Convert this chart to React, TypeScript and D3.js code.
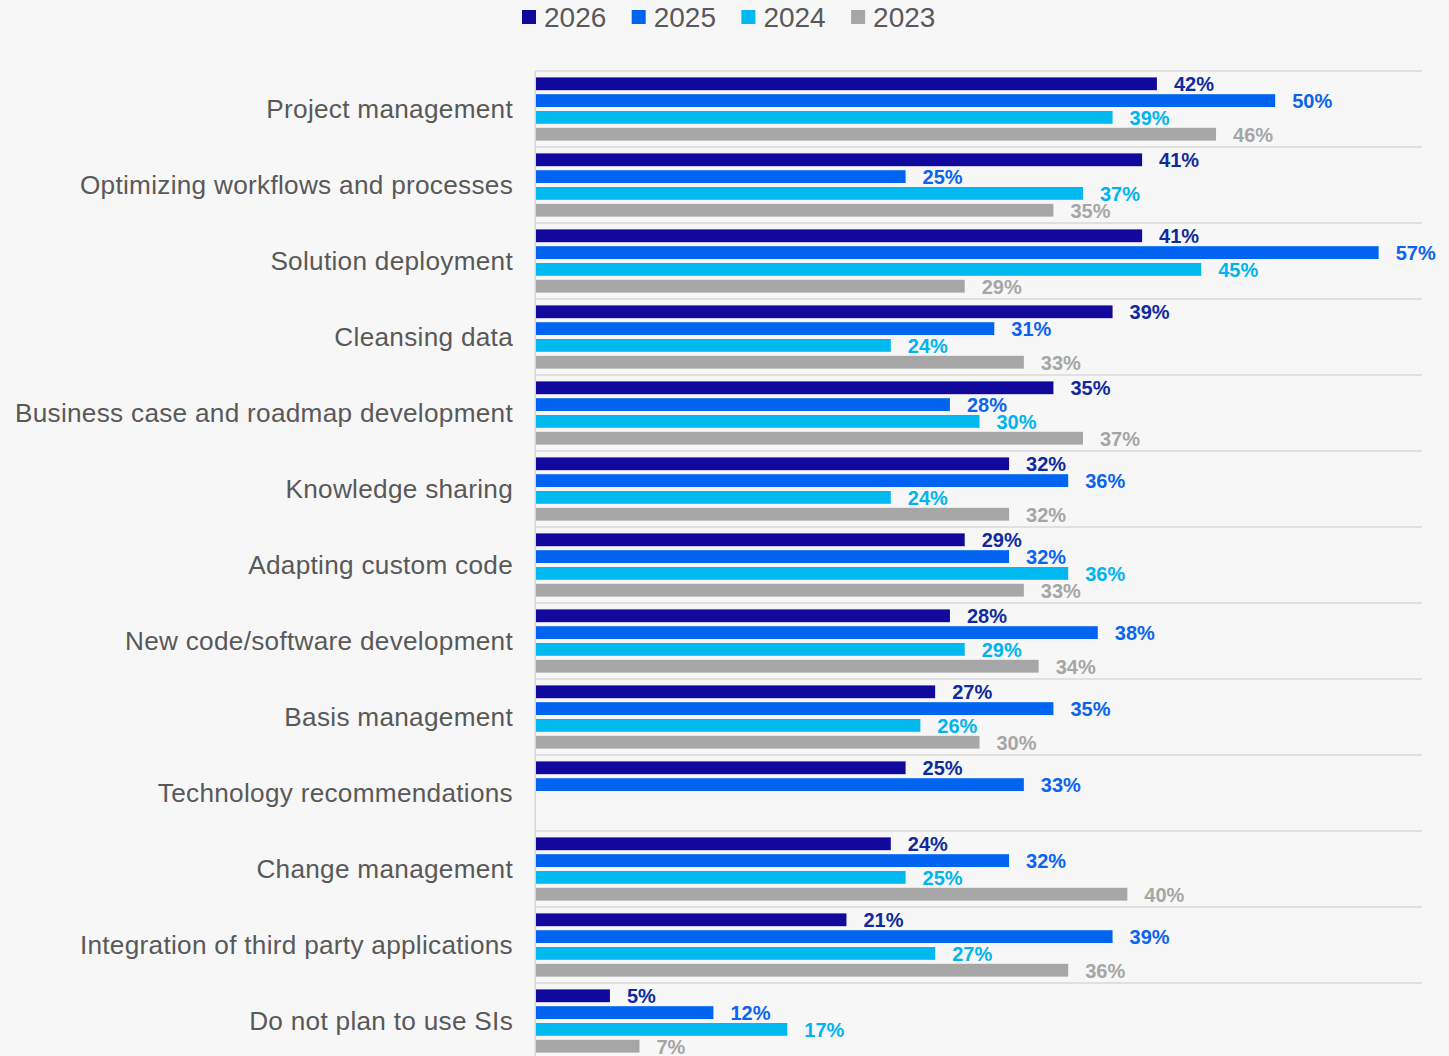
import React from "react";
import * as d3 from "d3";

const categories = [
  "Project management",
  "Optimizing workflows and processes",
  "Solution deployment",
  "Cleansing data",
  "Business case and roadmap development",
  "Knowledge sharing",
  "Adapting custom code",
  "New code/software development",
  "Basis management",
  "Technology recommendations",
  "Change management",
  "Integration of third party applications",
  "Do not plan to use SIs",
];

const seriesNames = ["2026", "2025", "2024", "2023"];
const v2026 = [42, 41, 41, 39, 35, 32, 29, 28, 27, 25, 24, 21, 5];
const v2025 = [50, 25, 57, 31, 28, 36, 32, 38, 35, 33, 32, 39, 12];
const v2024: (number | null)[] = [39, 37, 45, 24, 30, 24, 36, 29, 26, null, 25, 27, 17];
const v2023: (number | null)[] = [46, 35, 29, 33, 37, 32, 33, 34, 30, null, 40, 36, 7];
const seriesValues = [v2026, v2025, v2024, v2023];

const barColors = ["#11099c", "#0064f0", "#00b9f0", "#a6a6a6"];
const labelColors = ["#0f2a9c", "#0a64f0", "#00b4ee", "#a6a6a6"];

const W = 1449;
const H = 1056;
const FONT = "'Liberation Sans', Arial, Helvetica, sans-serif";

export default function App() {
  const x = d3.scaleLinear().domain([0, 60]).range([536, 1423]);
  const y = d3
    .scaleBand<string>()
    .domain(categories)
    .range([71, 71 + 76 * categories.length])
    .padding(0);
  const inner = d3
    .scaleBand<string>()
    .domain(seriesNames)
    .range([0, y.bandwidth()])
    .paddingInner(0.238)
    .paddingOuter(0.38);

  const gridYs = categories.map((c) => y(c) as number);
  gridYs.push(71 + 76 * categories.length);

  return (
    <svg
      width={W}
      height={H}
      style={{ position: "absolute", left: 0, top: 0, background: "#f7f7f7" }}
      fontFamily={FONT}
    >
      <rect x={0} y={0} width={W} height={H} fill="#f7f7f7" />
      {/* legend */}
      {seriesNames.map((s, i) => {
        const lx = 522 + i * 109.7;
        return (
          <g key={s}>
            <rect x={lx} y={10} width={14} height={14} fill={barColors[i]} />
            <text x={lx + 22} y={27} fontSize={28} fill="#595959">
              {s}
            </text>
          </g>
        );
      })}
      {/* gridlines */}
      {gridYs.map((gy, i) => (
        <line key={i} x1={535} x2={1422} y1={gy} y2={gy} stroke="#d9d9d9" strokeWidth={1.6} />
      ))}
      <line x1={535.2} x2={535.2} y1={71} y2={H} stroke="#d9d9d9" strokeWidth={1.6} />
      {/* category labels */}
      {categories.map((c) => (
        <text
          key={c}
          x={513}
          y={(y(c) as number) + y.bandwidth() / 2 + 9.3}
          fontSize={26.2}
          letterSpacing={0.28}
          fill="#595959"
          textAnchor="end"
        >
          {c}
        </text>
      ))}
      {/* bars */}
      {categories.map((c, ci) => (
        <g key={c} transform={`translate(0,${y(c)})`}>
          {seriesNames.map((s, si) => {
            const v = seriesValues[si][ci];
            if (v === null || v === undefined) return null;
            const by = inner(s) as number;
            const bh = inner.bandwidth();
            return (
              <g key={s}>
                <rect x={x(0)} y={by} width={x(v) - x(0)} height={bh} fill={barColors[si]} />
                <text
                  x={x(v) + 17}
                  y={by + bh / 2 + 7.6}
                  fontSize={20}
                  fontWeight="bold"
                  fill={labelColors[si]}
                >
                  {v}%
                </text>
              </g>
            );
          })}
        </g>
      ))}
    </svg>
  );
}
